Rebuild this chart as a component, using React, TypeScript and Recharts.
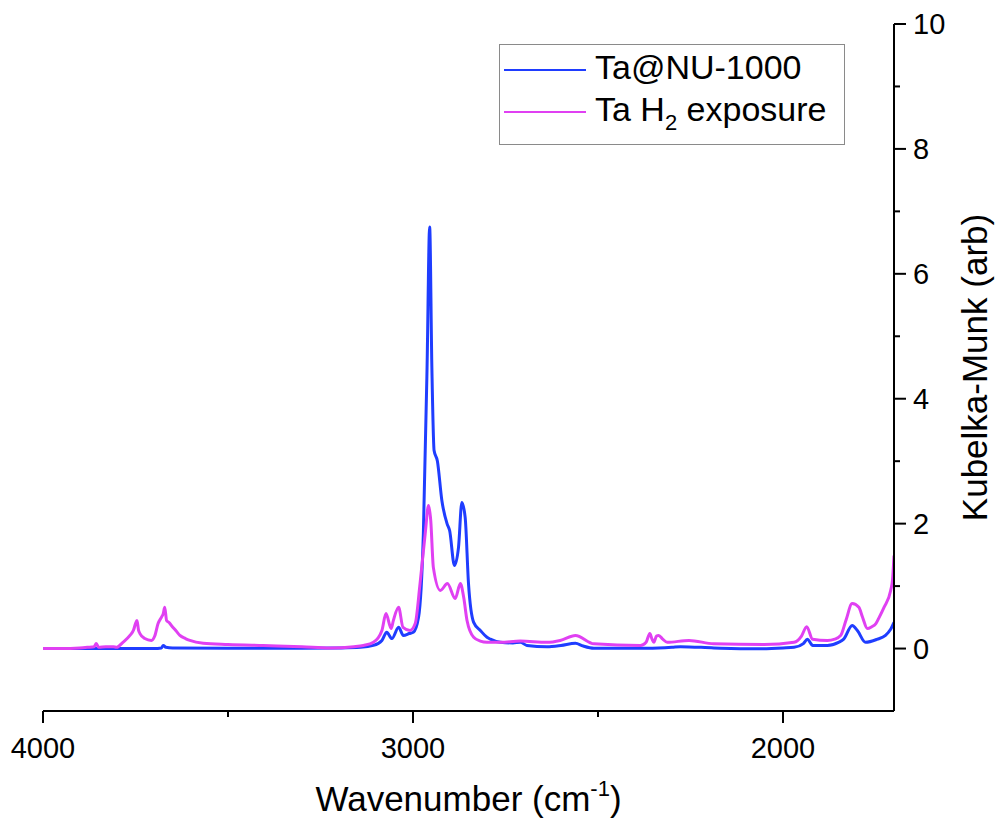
import { LineChart, Line, XAxis, YAxis, Legend, Label } from 'recharts';

// wavenumber (cm-1) / Kubelka-Munk pairs
const blueWn = [
  4000, 3900, 3800, 3700, 3680, 3675, 3668, 3650, 3500, 3300, 3200, 3142, 3107, 3084, 3071, 3057,
  3039, 3026, 3010, 2999, 2985, 2972, 2962, 2955, 2949, 2943, 2934, 2922, 2908, 2901, 2888, 2877,
  2868, 2859, 2850, 2836, 2818, 2800, 2791, 2764, 2730, 2710, 2692, 2638, 2600, 2561, 2540, 2511,
  2367, 2300, 2277, 2187, 2078, 2000, 1970, 1945, 1934, 1925, 1920, 1880, 1850, 1836, 1813, 1799,
  1777, 1745, 1723, 1710, 1700,
];
const blueKm = [
  0, 0, 0, 0, 0.01, 0.05, 0.02, 0.01, 0.005, 0.005, 0.01, 0.02, 0.05, 0.13, 0.26, 0.16,
  0.34, 0.21, 0.24, 0.26, 0.5, 1.84, 4.5, 6.75, 4.5, 3.17, 3.0, 2.37, 2.0, 1.89, 1.33, 1.62,
  2.34, 2.1, 1.04, 0.42, 0.29, 0.18, 0.15, 0.1, 0.09, 0.1, 0.05, 0.03, 0.05, 0.085, 0.04, 0.005,
  0.005, 0.02, 0.03, 0.01, -0.005, 0.01, 0.02, 0.08, 0.15, 0.08, 0.05, 0.05, 0.1, 0.15, 0.37, 0.29,
  0.1, 0.15, 0.21, 0.3, 0.42,
];

const pinkWn = [
  4000, 3950, 3901, 3880, 3862, 3856, 3850, 3830, 3810, 3801, 3784, 3765, 3755, 3750, 3746, 3742,
  3738, 3725, 3707, 3698, 3689, 3680, 3675, 3671, 3666, 3660, 3653, 3640, 3630, 3615, 3603, 3567,
  3500, 3405, 3300, 3224, 3160, 3134, 3107, 3084, 3073, 3059, 3053, 3039, 3027, 3008, 2994, 2981,
  2967, 2958, 2952, 2945, 2926, 2907, 2886, 2872, 2863, 2854, 2836, 2818, 2800, 2764, 2710, 2638,
  2602, 2561, 2511, 2385, 2370, 2360, 2354, 2349, 2342, 2336, 2325, 2313, 2254, 2187, 2051, 1970,
  1950, 1936, 1920, 1880, 1860, 1844, 1830, 1813, 1795, 1785, 1772, 1760, 1749, 1740, 1727, 1709,
  1704, 1700,
];
const pinkKm = [
  0, 0, 0.01, 0.02, 0.03, 0.08, 0.02, 0.03, 0.03, 0.02, 0.1, 0.21, 0.3, 0.4, 0.45, 0.3,
  0.24, 0.16, 0.13, 0.2, 0.4, 0.5, 0.56, 0.66, 0.45, 0.42, 0.37, 0.28, 0.21, 0.16, 0.13, 0.085,
  0.065, 0.048, 0.03, 0.01, 0.03, 0.05, 0.1, 0.29, 0.56, 0.32, 0.45, 0.66, 0.34, 0.29, 0.4, 1.04,
  1.84, 2.29, 2.05, 1.3, 0.93, 1.04, 0.8, 1.04, 0.82, 0.45, 0.18, 0.12, 0.1, 0.1, 0.12, 0.1,
  0.13, 0.21, 0.075, 0.048, 0.1, 0.24, 0.15, 0.1, 0.2, 0.21, 0.15, 0.1, 0.13, 0.075, 0.064, 0.1,
  0.2, 0.35, 0.15, 0.13, 0.15, 0.21, 0.45, 0.72, 0.66, 0.5, 0.32, 0.35, 0.4, 0.5, 0.66, 0.93,
  1.1, 1.49,
];

const xTicks = [4000, 3500, 3000, 2500, 2000];
const xMajor = [4000, 3000, 2000];
const yTicks = [0, 1, 2, 3, 4, 5, 6, 7, 8, 9, 10];
const yMajor = [0, 2, 4, 6, 8, 10];

const BLUE = '#1f3dff';
const PINK = '#e040f2';
const FONT = '"Liberation Sans", Arial, sans-serif';

const blueData = blueWn.map((x, i) => ({ x, y: blueKm[i] }));
const pinkData = pinkWn.map((x, i) => ({ x, y: pinkKm[i] }));

function XTick(props: any) {
  const { x, y, payload } = props;
  const major = xMajor.includes(payload.value);
  return (
    <g>
      <line x1={x} x2={x} y1={y} y2={y + (major ? 12 : 6)} stroke="#000" strokeWidth={2} />
      {major && (
        <text x={x} y={y + 47} textAnchor="middle" fontSize={29} fontFamily={FONT} fill="#000">
          {payload.value}
        </text>
      )}
    </g>
  );
}

function YTick(props: any) {
  const { x, y, payload } = props;
  const major = yMajor.includes(payload.value);
  return (
    <g>
      <line x1={x} x2={x + (major ? 12 : 6)} y1={y} y2={y} stroke="#000" strokeWidth={2} />
      {major && (
        <text x={x + 19} y={y + 10} textAnchor="start" fontSize={29} fontFamily={FONT} fill="#000">
          {payload.value}
        </text>
      )}
    </g>
  );
}

function XTitle(props: any) {
  const vb = props.viewBox;
  return (
    <text x={vb.x + vb.width / 2} y={vb.y + 100} textAnchor="middle" fontSize={35} fontFamily={FONT} fill="#000">
      Wavenumber (cm
      <tspan fontSize={22} dy={-15}>-1</tspan>
      <tspan dy={15}>)</tspan>
    </text>
  );
}

function YTitle(props: any) {
  const vb = props.viewBox;
  const bx = vb.x + 93;
  const cy = vb.y + vb.height / 2;
  return (
    <text x={bx} y={cy} transform={`rotate(-90 ${bx} ${cy})`} textAnchor="middle" fontSize={35} fontFamily={FONT} fill="#000">
      Kubelka-Munk (arb)
    </text>
  );
}

function LegendBox() {
  return (
    <div style={{ width: 346, height: 101, border: '1px solid #8a8a8a', boxSizing: 'border-box', background: '#fff' }}>
      <svg width={344} height={99} style={{ display: 'block' }}>
        <line x1={4} x2={86} y1={25} y2={25} stroke={BLUE} strokeWidth={2} />
        <text x={95} y={34} fontSize={34} fontFamily={FONT} fill="#000">Ta@NU-1000</text>
        <line x1={4} x2={86} y1={67} y2={67} stroke={PINK} strokeWidth={2} />
        <text x={95} y={76} fontSize={34} fontFamily={FONT} fill="#000">
          Ta H<tspan fontSize={22} dy={9}>2</tspan><tspan dy={-9}> exposure</tspan>
        </text>
      </svg>
    </div>
  );
}

export default function App() {
  return (
    <div style={{ position: 'absolute', left: 0, top: 0, width: 997, height: 822, background: '#fff' }}>
      <LineChart width={997} height={822} margin={{ top: 24, right: 0, bottom: 0, left: 43 }}>
        <XAxis
          type="number"
          dataKey="x"
          domain={[1700, 4000]}
          reversed
          allowDataOverflow
          ticks={xTicks}
          interval={0}
          height={111}
          tickSize={0}
          tickMargin={0}
          tickLine={false}
          axisLine={{ stroke: '#000', strokeWidth: 2 }}
          tick={<XTick />}
        >
          <Label content={<XTitle />} />
        </XAxis>
        <YAxis
          type="number"
          dataKey="y"
          orientation="right"
          domain={[-1, 10]}
          allowDataOverflow
          ticks={yTicks}
          interval={0}
          width={103}
          tickSize={0}
          tickMargin={0}
          tickLine={false}
          axisLine={{ stroke: '#000', strokeWidth: 2 }}
          tick={<YTick />}
        >
          <Label content={<YTitle />} />
        </YAxis>
        <Legend
          layout="horizontal"
          verticalAlign="middle"
          content={<LegendBox />}
          wrapperStyle={{ left: 499, top: 44, width: 346, height: 101 }}
        />
        <Line data={blueData} dataKey="y" name="Ta@NU-1000" type="monotoneX" stroke={BLUE} strokeWidth={3} dot={false} isAnimationActive={false} />
        <Line data={pinkData} dataKey="y" name="Ta H2 exposure" type="monotoneX" stroke={PINK} strokeWidth={3} dot={false} isAnimationActive={false} />
      </LineChart>
    </div>
  );
}
